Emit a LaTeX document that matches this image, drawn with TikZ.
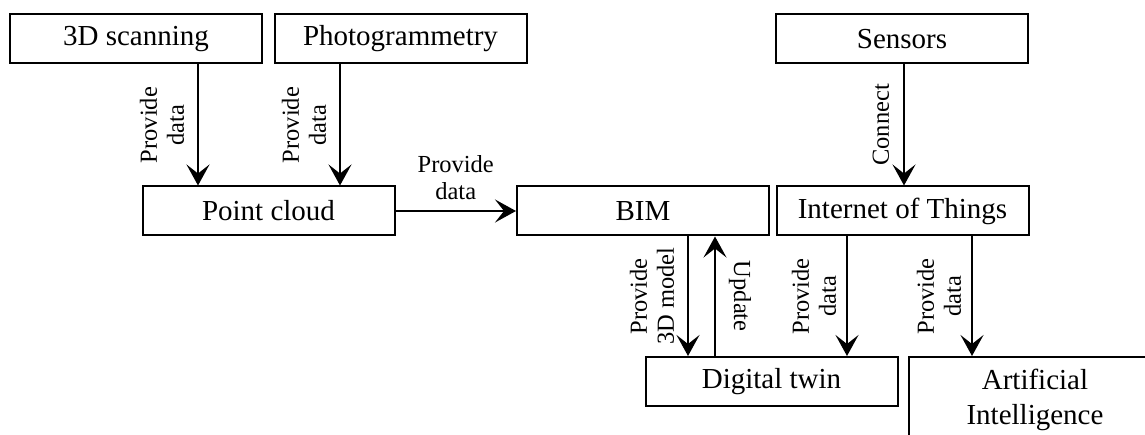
\documentclass[tikz,border=0pt]{standalone}
\usepackage{fontspec}
\setmainfont{Liberation Serif}
\usetikzlibrary{arrows.meta,calc}
\begin{document}
\begin{tikzpicture}[x=1pt,y=-1pt,
  box/.style={draw, line width=2pt, minimum width=252pt, minimum height=49pt,
    inner sep=0pt, font=\fontsize{29}{35}\selectfont, align=center},
  arr/.style={line width=2pt, -{Stealth[length=21pt,width=23pt,inset=9pt]}},
  lbl/.style={font=\fontsize{24.5}{27}\selectfont, align=center, inner xsep=0pt, inner ysep=13pt}]
\useasboundingbox (0,0) rectangle (1145,435);
\clip (0,0) rectangle (1145,435);

\node[box] (scan) at (136,39) {3D scanning};
\node[box] (photo) at (400.5,39) {Photogrammetry};
\node[box] (sens) at (902,39) {Sensors};
\node[box] (pc) at (268.5,211) {Point cloud};
\node[box] (bim) at (643,211) {BIM};
\node[box] (iot) at (902.5,211) {Internet of Things};
\node[box] (dt) at (771.5,381.5) {Digital twin};
\node[box, minimum height=86pt] (ai) at (1035,400) {Artificial\\Intelligence};

% top row to point cloud
\coordinate (a1) at ([xshift=62pt]scan.south);
\coordinate (a2) at (a1 |- pc.north);
\draw[arr] (a1) -- (a2) node[midway, lbl, rotate=90, anchor=south] {Provide\\data};
\coordinate (b1) at ([xshift=-60.5pt]photo.south);
\coordinate (b2) at (b1 |- pc.north);
\draw[arr] (b1) -- (b2) node[midway, lbl, rotate=90, anchor=south] {Provide\\data};

% point cloud to BIM
\draw[arr] (pc.east) -- (bim.west) node[midway, lbl, anchor=south, inner ysep=10pt] {Provide\\data};

% sensors to IoT
\coordinate (c1) at ([xshift=2pt]sens.south);
\coordinate (c2) at (c1 |- iot.north);
\draw[arr] (c1) -- (c2) node[midway, lbl, rotate=90, anchor=south, inner ysep=14pt] {Connect};

% BIM <-> digital twin
\coordinate (d1) at ([xshift=45pt]bim.south);
\coordinate (d2) at (d1 |- dt.north);
\draw[arr] (d1) -- (d2) node[midway, lbl, rotate=90, anchor=south] {Provide\\3D model};
\coordinate (u1) at ([xshift=72pt]bim.south);
\coordinate (u2) at (u1 |- dt.north);
\draw[arr] (u2) -- (u1) node[midway, lbl, rotate=-90, anchor=south] {Update};

% IoT to digital twin and AI
\coordinate (e1) at ([xshift=-55.5pt]iot.south);
\coordinate (e2) at (e1 |- dt.north);
\draw[arr] (e1) -- (e2) node[midway, lbl, rotate=90, anchor=south, inner ysep=10pt] {Provide\\data};
\coordinate (f1) at ([xshift=69.5pt]iot.south);
\coordinate (f2) at (f1 |- ai.north);
\draw[arr] (f1) -- (f2) node[midway, lbl, rotate=90, anchor=south, inner ysep=10pt] {Provide\\data};
\end{tikzpicture}
\end{document}
